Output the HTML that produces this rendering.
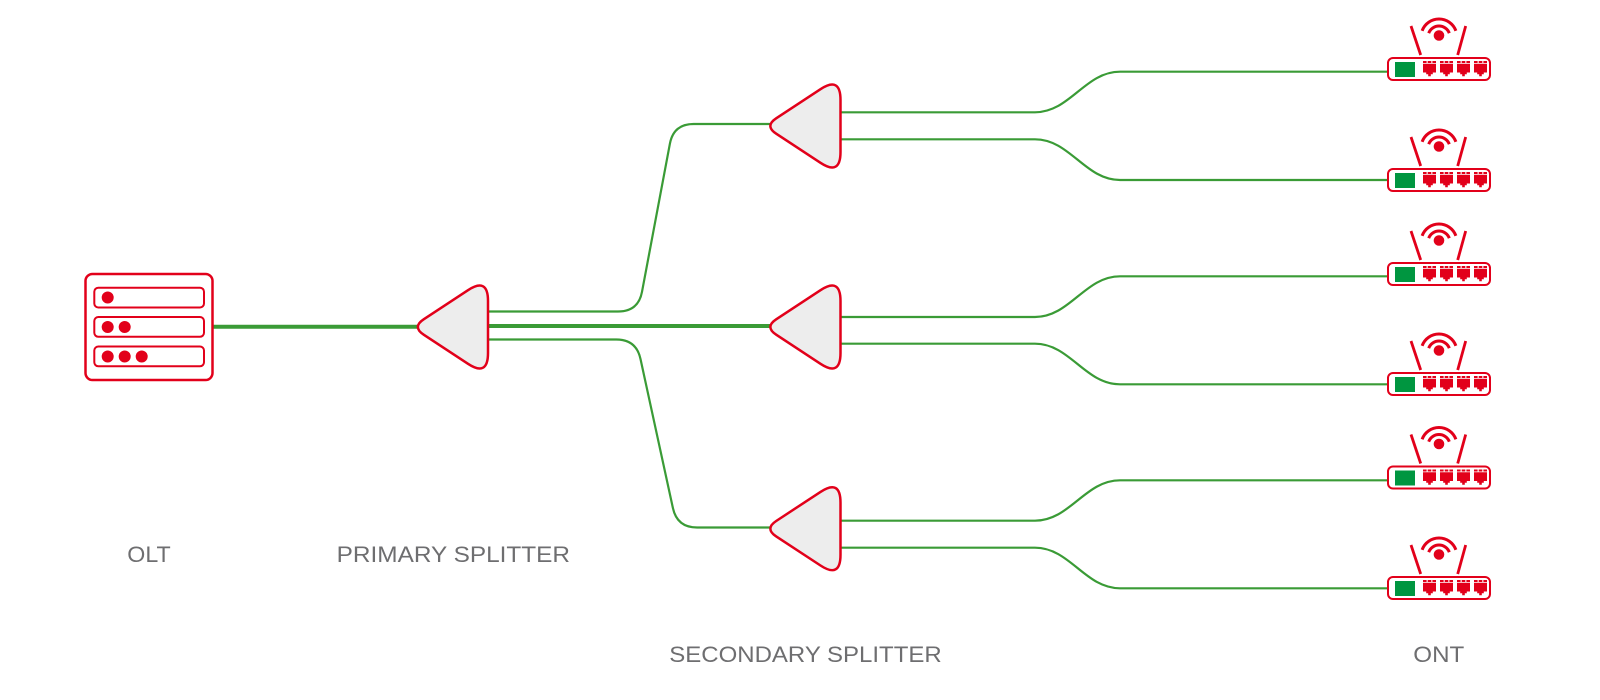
<!DOCTYPE html>
<html>
<head>
<meta charset="utf-8">
<style>
  html, body { margin: 0; padding: 0; background: #ffffff; }
  body { width: 1600px; height: 700px; overflow: hidden; }
  svg { display: block; }
  .lbl { font-family: "Liberation Sans", sans-serif; font-size: 22px; fill: #6e6e70; }
</style>
</head>
<body>
<svg width="1600" height="700" viewBox="0 0 1600 700" xmlns="http://www.w3.org/2000/svg">
  <defs>
    <path id="spl" d="M-64.3,-7.7 L-20,-36.8 Q0,-50 0,-26 L0,26 Q0,50 -20,36.8 L-64.3,7.7 Q-76,0 -64.3,-7.7 Z" fill="#ededed" stroke="#e2001a" stroke-width="2.5" stroke-linejoin="round"/>
    <g id="port">
      <rect x="0" y="4" width="3.6" height="2" fill="#e2001a"/>
      <rect x="4.7" y="4" width="3.6" height="2" fill="#e2001a"/>
      <rect x="9.4" y="4" width="3.6" height="2" fill="#e2001a"/>
      <path d="M0,6.8 H13 V15.5 H9.8 V17.3 H7.8 V19.2 H5.2 V17.3 H3.2 V15.5 H0 Z" fill="#e2001a"/>
    </g>
    <g id="ont">
      <line x1="24" y1="-31" x2="33.7" y2="-2" stroke="#e2001a" stroke-width="2.8"/>
      <line x1="78.7" y1="-31" x2="70.7" y2="-2" stroke="#e2001a" stroke-width="2.8"/>
      <circle cx="52" cy="-21.5" r="5.3" fill="#e2001a"/>
      <path d="M35.1,-26.2 A18,18 0 0 1 68.9,-26.2" fill="none" stroke="#e2001a" stroke-width="3"/>
      <path d="M41.7,-23.8 A11,11 0 0 1 62.3,-23.8" fill="none" stroke="#e2001a" stroke-width="3"/>
      <rect x="1" y="1" width="102" height="22" rx="5" ry="5" fill="#ffffff" stroke="#e2001a" stroke-width="2"/>
      <rect x="8" y="5" width="20" height="15" fill="#009640"/>
      <use href="#port" x="36" y="0"/>
      <use href="#port" x="53" y="0"/>
      <use href="#port" x="70" y="0"/>
      <use href="#port" x="87" y="0"/>
    </g>
  </defs>

  <!-- green fibre lines -->
  <g fill="none" stroke="#3a9b36" stroke-linecap="butt">
    <line x1="212" y1="326.7" x2="420" y2="326.7" stroke-width="4"/>
    <line x1="488" y1="326" x2="772" y2="326" stroke-width="4"/>

    <path d="M488,311.5 H618 Q638.3,311.5 642,291.8 L669.9,143.7 Q673.6,124 693.6,124 H772" stroke-width="2.2"/>
    <path d="M488,339.5 H616.3 Q636.3,339.5 640.5,359 L672.9,508 Q677.1,527.5 697.1,527.5 H772" stroke-width="2.2"/>

    <path d="M840.5,112.3 H1035 C1070,112.3 1085,71.7 1120,71.7 H1389" stroke-width="2.2"/>
    <path d="M840.5,139.3 H1035 C1070,139.3 1085,180 1120,180 H1389" stroke-width="2.2"/>
    <path d="M840.5,317 H1035 C1070,317 1085,276.3 1120,276.3 H1389" stroke-width="2.2"/>
    <path d="M840.5,343.7 H1035 C1070,343.7 1085,384.3 1120,384.3 H1389" stroke-width="2.2"/>
    <path d="M840.5,520.7 H1035 C1070,520.7 1085,480.3 1120,480.3 H1389" stroke-width="2.2"/>
    <path d="M840.5,547.7 H1035 C1070,547.7 1085,588.3 1120,588.3 H1389" stroke-width="2.2"/>
  </g>

  <!-- OLT -->
  <g stroke="#e2001a" fill="#ffffff">
    <rect x="85.5" y="274" width="127" height="106" rx="7" ry="7" stroke-width="2.5"/>
    <rect x="94.3" y="287.7" width="109.7" height="19.8" rx="4" ry="4" stroke-width="2"/>
    <rect x="94.3" y="317" width="109.7" height="19.8" rx="4" ry="4" stroke-width="2"/>
    <rect x="94.3" y="346.5" width="109.7" height="19.8" rx="4" ry="4" stroke-width="2"/>
  </g>
  <g fill="#e2001a">
    <circle cx="107.7" cy="297.5" r="6"/>
    <circle cx="107.7" cy="327" r="6"/>
    <circle cx="124.7" cy="327" r="6"/>
    <circle cx="107.7" cy="356.5" r="6"/>
    <circle cx="124.7" cy="356.5" r="6"/>
    <circle cx="141.7" cy="356.5" r="6"/>
  </g>

  <!-- splitters -->
  <use href="#spl" transform="translate(488,327)"/>
  <use href="#spl" transform="translate(840.5,126)"/>
  <use href="#spl" transform="translate(840.5,327)"/>
  <use href="#spl" transform="translate(840.5,528.7)"/>

  <!-- ONTs -->
  <use href="#ont" transform="translate(1387,57)"/>
  <use href="#ont" transform="translate(1387,168)"/>
  <use href="#ont" transform="translate(1387,262)"/>
  <use href="#ont" transform="translate(1387,372)"/>
  <use href="#ont" transform="translate(1387,465.5)"/>
  <use href="#ont" transform="translate(1387,576)"/>

  <!-- labels -->
  <text class="lbl" x="127.3" y="562" textLength="43.4" lengthAdjust="spacingAndGlyphs">OLT</text>
  <text class="lbl" x="336.7" y="562" textLength="233.3" lengthAdjust="spacingAndGlyphs">PRIMARY SPLITTER</text>
  <text class="lbl" x="669.3" y="662" textLength="272.4" lengthAdjust="spacingAndGlyphs">SECONDARY SPLITTER</text>
  <text class="lbl" x="1413.3" y="662" textLength="51" lengthAdjust="spacingAndGlyphs">ONT</text>
</svg>
</body>
</html>
